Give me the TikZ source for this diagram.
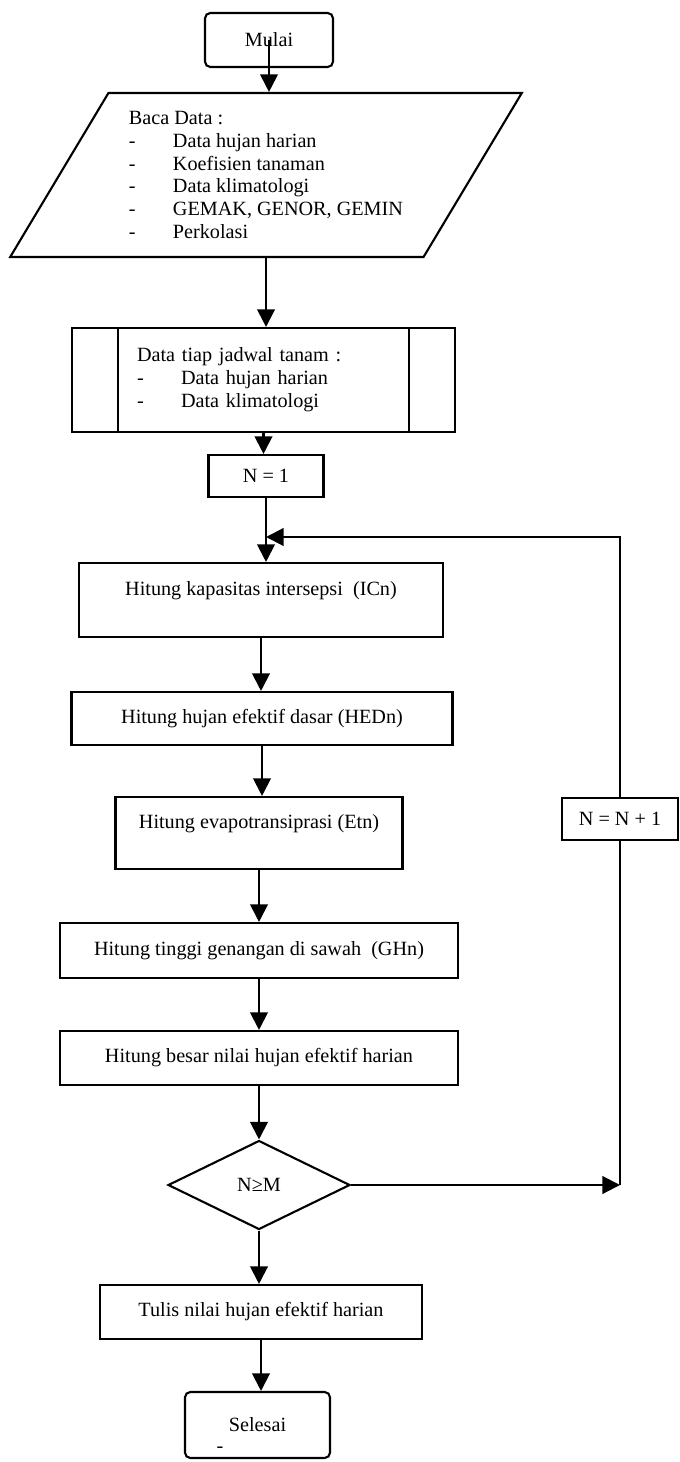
\documentclass[tikz,border=0pt]{standalone}
\usepackage{fontspec}
\setmainfont{Liberation Serif}
\usetikzlibrary{shapes.geometric,arrows.meta}

\newcommand{\butir}[1]{\makebox[0.88cm][l]{-}#1}

\begin{document}
\begin{tikzpicture}[x=0.02cm,y=-0.02cm,
    every node/.style={font=\fontsize{11.5}{13}\selectfont},
    proses/.style={draw,line width=1.2pt,inner sep=2pt},
    ujung/.style={proses,rounded corners=3pt},
    masukan/.style={draw,line width=1.2pt,trapezium,trapezium left angle=57.4,
      trapezium right angle=122.6,trapezium stretches=true,align=left},
    keputusan/.style={draw,line width=1.2pt,diamond,aspect=2,inner sep=0pt},
    panah/.style={line width=1.2pt,-{Triangle[length=10pt,width=10pt]}},
    garis/.style={line width=1.2pt}]
  \useasboundingbox (0,0) rectangle (679,1462);

  % alur utama
  \node[ujung,minimum width=2.56cm,minimum height=1.08cm] (mulai) at (269,40) {Mulai};
  \node[masukan,minimum width=10.24cm,minimum height=3.28cm] (baca) at (266,175)
    {Baca Data :\\ \butir{Data hujan harian}\\ \butir{Koefisien tanaman}\\
     \butir{Data klimatologi}\\ \butir{GEMAK, GENOR, GEMIN}\\ \butir{Perkolasi}};
  \node[proses,minimum width=7.66cm,minimum height=2.08cm,text width=5.06cm,align=left]
    (jadwal) at (263.5,380)
    {Data tiap jadwal tanam :\\ \butir{Data hujan harian}\\ \butir{Data klimatologi}};
  \draw[garis] ([xshift=0.94cm]jadwal.north west) -- ([xshift=0.94cm]jadwal.south west);
  \draw[garis] ([xshift=-0.94cm]jadwal.north east) -- ([xshift=-0.94cm]jadwal.south east);
  \node[proses,minimum width=2.3cm,minimum height=0.84cm] (n1) at (266,476) {N = 1};
  \node[proses,minimum width=7.28cm,minimum height=1.48cm,align=center] (icn) at (261,600)
    {Hitung kapasitas intersepsi~~(ICn)\\ \mbox{}};
  \node[proses,minimum width=7.62cm,minimum height=1.06cm] (hedn) at (262,718.5)
    {Hitung hujan efektif dasar (HEDn)};
  \node[proses,minimum width=5.74cm,minimum height=1.44cm,align=center] (etn) at (259,833)
    {Hitung evapotransiprasi (Etn)\\ \mbox{}};
  \node[proses,minimum width=7.96cm,minimum height=1.1cm] (ghn) at (259,950.5)
    {Hitung tinggi genangan di sawah~~(GHn)};
  \node[proses,minimum width=7.96cm,minimum height=1.08cm] (besar) at (259,1058)
    {Hitung besar nilai hujan efektif harian};
  \node[keputusan,minimum width=3.64cm,minimum height=1.78cm] (cek) at (259,1185) {N≥M};
  \node[proses,minimum width=6.44cm,minimum height=1.08cm] (tulis) at (261,1312)
    {Tulis nilai hujan efektif harian};
  \node[ujung,minimum width=2.9cm,minimum height=1.32cm] (selesai) at (257.5,1425) {Selesai};
  \node (coret) at (220,1450) {-};

  % perulangan
  \node[proses,minimum width=2.32cm,minimum height=0.84cm] (nn) at (620,819) {N = N + 1};
  \coordinate (gabung) at (266,537);

  \draw[panah] (mulai.center) -- (mulai.center |- baca.north);
  \draw[panah] (baca.south) -- (baca.south |- jadwal.north);
  \draw[panah] (jadwal.south) -- (jadwal.south |- n1.north);
  \draw[panah] (n1.south) -- (n1.south |- icn.north);
  \draw[panah] (icn.south) -- (icn.south |- hedn.north);
  \draw[panah] (hedn.south) -- (hedn.south |- etn.north);
  \draw[panah] (etn.south) -- (etn.south |- ghn.north);
  \draw[panah] (ghn.south) -- (ghn.south |- besar.north);
  \draw[panah] (besar.south) -- (cek.north);
  \draw[panah] (cek.south) -- (cek.south |- tulis.north);
  \draw[panah] (tulis.south) -- (tulis.south |- selesai.north);
  \draw[panah] (cek.east) -- (cek.east -| nn.south);
  \draw[garis] (cek.east -| nn.south) -- (nn.south);
  \draw[panah] (nn.north) |- (gabung);
\end{tikzpicture}
\end{document}
